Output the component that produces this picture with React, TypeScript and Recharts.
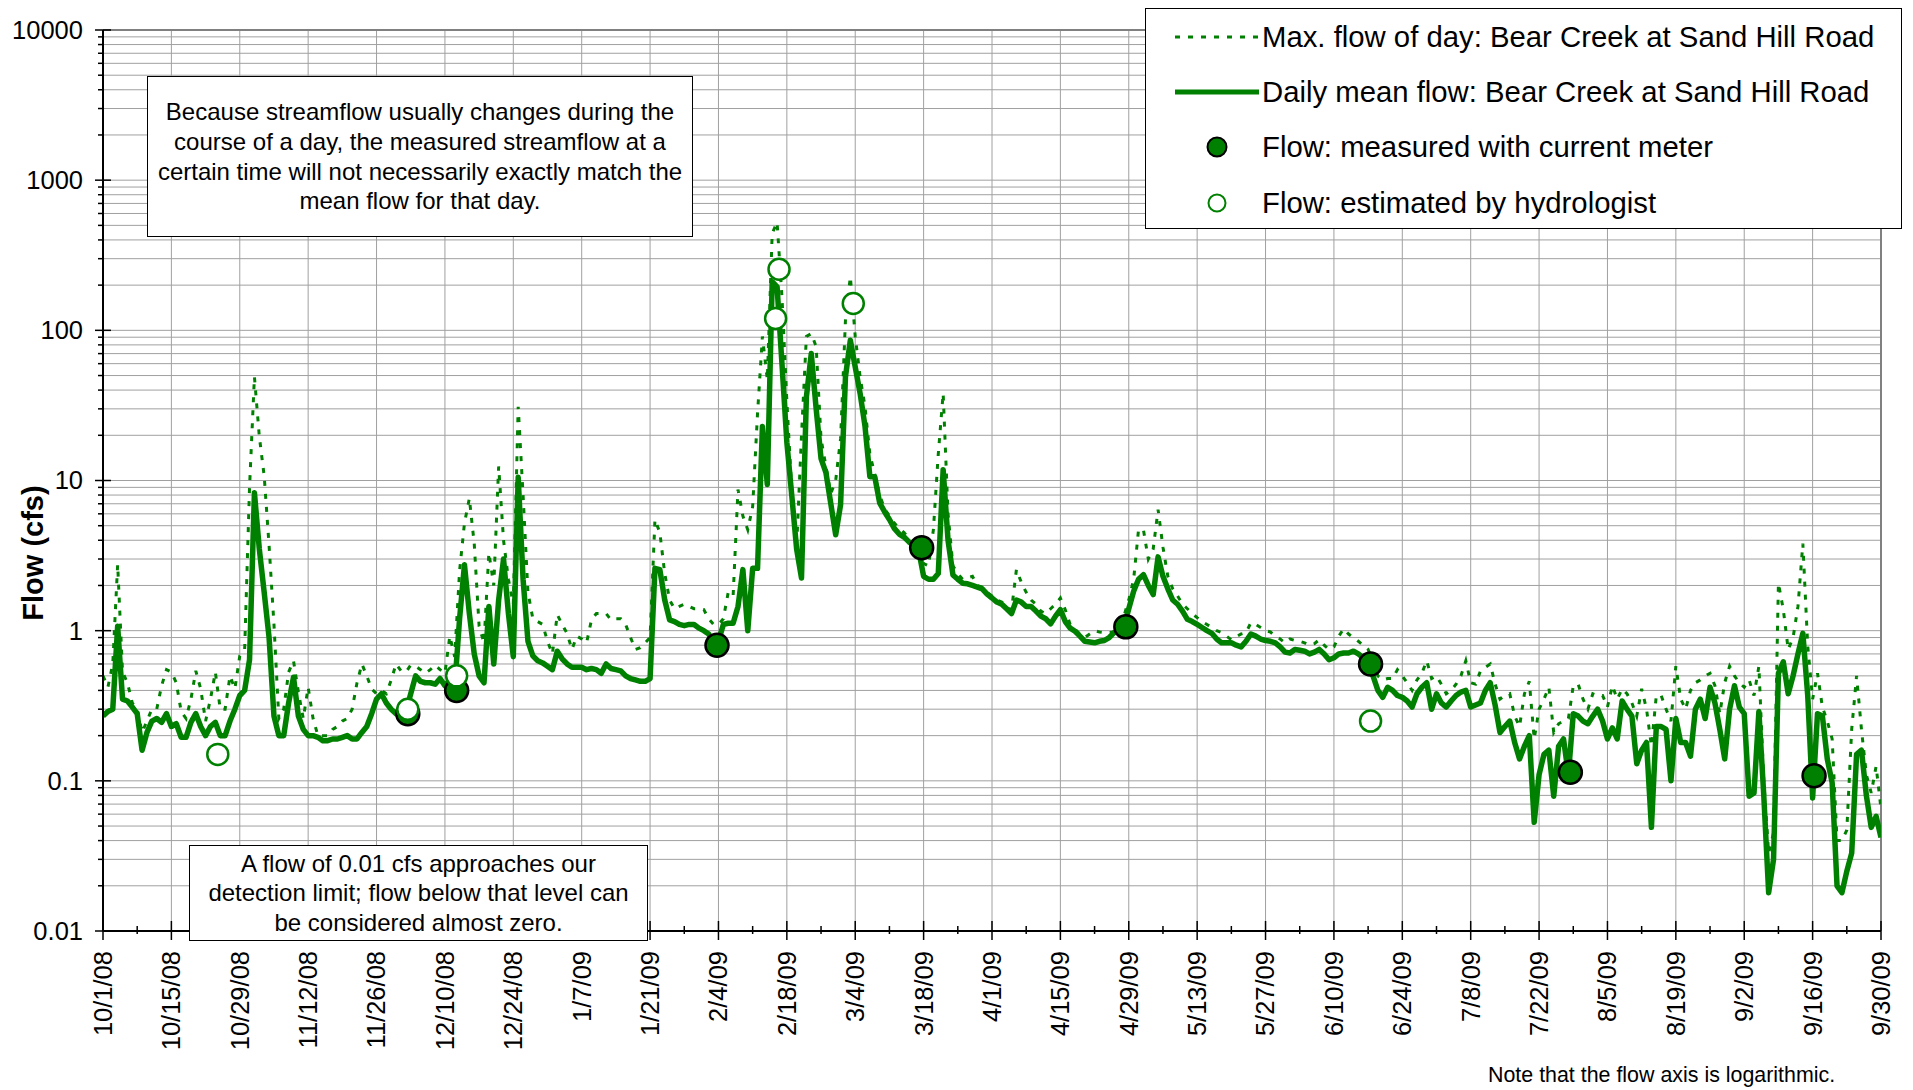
import React from 'react'
import {
  ComposedChart,
  Line,
  Scatter,
  XAxis,
  YAxis,
  CartesianGrid,
  ReferenceLine,
  Legend
} from 'recharts'

const FONT = '"Liberation Sans", Arial, Helvetica, sans-serif'
const GREEN = '#008000'

const CHART_W = 1913
const CHART_H = 1090
const PLOT_LEFT = 103
const PLOT_RIGHT = 32
const PLOT_TOP = 30
const X_AXIS_H = 159
const LAST_DAY = 364
const PX_PER_DAY = (CHART_W - PLOT_LEFT - PLOT_RIGHT) / LAST_DAY

// daily mean / daily max flow (cfs), Bear Creek at Sand Hill Road, 10/1/08 - 9/30/09
const meanOct = [0.27, 0.29, 0.3, 1.07, 0.35, 0.34, 0.31, 0.28, 0.16, 0.21, 0.25, 0.26, 0.245, 0.28, 0.23, 0.24, 0.195, 0.195, 0.245, 0.28, 0.23, 0.2, 0.23, 0.245, 0.2, 0.2, 0.25, 0.3, 0.37, 0.4, 0.64]
const maxOct = [0.5, 0.42, 0.6, 2.76, 0.53, 0.45, 0.33, 0.3, 0.21, 0.25, 0.3, 0.3, 0.43, 0.55, 0.53, 0.45, 0.29, 0.26, 0.35, 0.54, 0.41, 0.25, 0.35, 0.53, 0.3, 0.3, 0.5, 0.41, 0.68, 0.75, 9]

const meanNov = [8.3, 3.5, 1.8, 0.9, 0.27, 0.2, 0.2, 0.33, 0.49, 0.27, 0.22, 0.2, 0.2, 0.195, 0.185, 0.185, 0.19, 0.19, 0.195, 0.2, 0.19, 0.19, 0.21, 0.23, 0.28, 0.35, 0.38, 0.33, 0.3, 0.28]
const maxNov = [49, 19.7, 10.7, 3.7, 1.1, 0.26, 0.3, 0.53, 0.63, 0.39, 0.26, 0.42, 0.26, 0.2, 0.2, 0.2, 0.22, 0.23, 0.25, 0.26, 0.3, 0.45, 0.6, 0.5, 0.41, 0.38, 0.4, 0.38, 0.47, 0.6]

const meanDec = [0.3, 0.29, 0.38, 0.5, 0.46, 0.45, 0.45, 0.44, 0.48, 0.43, 0.47, 0.42, 1.2, 2.75, 1.3, 0.7, 0.5, 0.45, 1.45, 0.6, 1.6, 3.0, 1.3, 0.67, 10.5, 2.2, 0.85, 0.68, 0.63, 0.61, 0.58]
const maxDec = [0.54, 0.53, 0.59, 0.58, 0.55, 0.52, 0.55, 0.59, 0.55, 0.52, 0.92, 0.67, 2.5, 5.2, 7.6, 3.8, 1.07, 0.83, 3.3, 2.0, 12.4, 4.0, 2.2, 1.5, 31, 8, 1.8, 1.2, 1.15, 1.1, 0.85]

const meanJan = [0.55, 0.73, 0.65, 0.6, 0.57, 0.57, 0.57, 0.55, 0.56, 0.55, 0.52, 0.6, 0.56, 0.55, 0.54, 0.5, 0.48, 0.47, 0.46, 0.46, 0.48, 2.6, 2.55, 1.6, 1.18, 1.15, 1.1, 1.08, 1.1, 1.1, 1.04]
const maxJan = [0.7, 1.28, 1.1, 0.96, 0.75, 0.92, 0.88, 0.83, 1.18, 1.3, 1.3, 1.3, 1.18, 1.2, 1.2, 1.1, 0.9, 0.75, 0.77, 0.83, 0.9, 5.5, 4.5, 2.4, 1.6, 1.4, 1.45, 1.5, 1.45, 1.4, 1.4]

const meanFeb = [1.0, 0.95, 0.82, 0.85, 1.1, 1.12, 1.12, 1.45, 2.55, 1.0, 2.6, 2.6, 22.9, 9.4, 211, 195, 60, 18, 8, 3.5, 2.24, 36, 70, 30, 14, 11.3, 7, 4.35]
const maxFeb = [1.38, 1.2, 1.1, 1.1, 1.2, 1.8, 1.7, 8.7, 5.8, 4.7, 6.7, 28, 91, 47, 442, 525, 167, 34, 8.7, 3.6, 20, 91, 95, 78, 19, 12.4, 8.2, 10]

const meanMar = [6.9, 49, 86, 57, 38, 23, 10.6, 10.6, 7.1, 6.2, 5.5, 4.8, 4.4, 4.2, 3.9, 3.7, 3.4, 2.3, 2.2, 2.2, 2.4, 11.8, 4, 2.35, 2.2, 2.07, 2.05, 2.0, 1.95, 1.9, 1.75]
const maxMar = [19, 117, 228, 91, 49, 31, 15, 11, 8, 6.5, 5.8, 5.2, 4.8, 4.5, 4.1, 3.9, 3.6, 2.8, 2.7, 4.7, 15, 38, 6, 2.7, 2.4, 2.2, 2.25, 2.3, 2.0, 1.95, 1.8]

const meanApr = [1.65, 1.55, 1.5, 1.4, 1.3, 1.6, 1.55, 1.45, 1.45, 1.35, 1.25, 1.2, 1.11, 1.25, 1.38, 1.15, 1.04, 0.99, 0.92, 0.85, 0.84, 0.83, 0.85, 0.86, 0.9, 0.97, 1.0, 1.06, 1.4, 1.83]
const maxApr = [1.7, 1.6, 1.55, 1.45, 1.37, 2.55, 2.1, 1.8, 1.6, 1.5, 1.35, 1.3, 1.4, 1.5, 1.65, 1.38, 1.1, 1.02, 0.95, 0.9, 0.95, 1.0, 0.98, 0.97, 0.97, 0.98, 1.1, 1.25, 1.6, 2.2]

const meanMay = [2.2, 2.36, 2.0, 1.74, 3.1, 2.3, 1.9, 1.6, 1.5, 1.35, 1.19, 1.15, 1.1, 1.05, 1.0, 0.96, 0.88, 0.83, 0.83, 0.83, 0.8, 0.78, 0.85, 0.95, 0.92, 0.88, 0.86, 0.85, 0.83, 0.78, 0.72]
const maxMay = [4.7, 4.7, 3.0, 3.5, 6.4, 3.6, 2.3, 1.9, 1.7, 1.5, 1.4, 1.3, 1.22, 1.15, 1.1, 1.05, 1.0, 0.97, 0.92, 0.87, 0.91, 0.95, 0.97, 1.13, 1.1, 1.05, 1.0, 0.98, 0.92, 0.88, 0.83]

const meanJun = [0.71, 0.75, 0.74, 0.73, 0.7, 0.72, 0.75, 0.7, 0.64, 0.66, 0.7, 0.71, 0.71, 0.73, 0.7, 0.66, 0.6, 0.5, 0.4, 0.36, 0.42, 0.4, 0.37, 0.36, 0.34, 0.31, 0.38, 0.42, 0.45, 0.3]
const maxJun = [0.88, 0.86, 0.85, 0.83, 0.8, 0.82, 0.87, 0.8, 0.75, 0.78, 0.92, 1.03, 0.95, 0.9, 0.85, 0.8, 0.75, 0.62, 0.5, 0.47, 0.48, 0.48, 0.55, 0.5, 0.45, 0.4, 0.47, 0.52, 0.63, 0.48]

const meanJul = [0.38, 0.33, 0.31, 0.34, 0.37, 0.39, 0.4, 0.31, 0.32, 0.33, 0.4, 0.45, 0.32, 0.21, 0.23, 0.25, 0.18, 0.14, 0.17, 0.2, 0.053, 0.11, 0.15, 0.16, 0.079, 0.17, 0.19, 0.11, 0.28, 0.27, 0.25]
const maxJul = [0.5, 0.44, 0.38, 0.4, 0.44, 0.5, 0.63, 0.45, 0.44, 0.54, 0.57, 0.6, 0.44, 0.35, 0.37, 0.38, 0.27, 0.23, 0.38, 0.46, 0.19, 0.3, 0.35, 0.42, 0.21, 0.24, 0.25, 0.26, 0.43, 0.44, 0.35]

const meanAug = [0.24, 0.27, 0.3, 0.25, 0.19, 0.225, 0.19, 0.34, 0.3, 0.27, 0.13, 0.16, 0.18, 0.049, 0.23, 0.23, 0.22, 0.1, 0.26, 0.18, 0.18, 0.146, 0.3, 0.35, 0.26, 0.42, 0.33, 0.22, 0.14, 0.3, 0.43]
const maxAug = [0.3, 0.38, 0.37, 0.37, 0.31, 0.43, 0.35, 0.41, 0.38, 0.33, 0.27, 0.41, 0.3, 0.17, 0.37, 0.37, 0.3, 0.25, 0.58, 0.35, 0.3, 0.4, 0.45, 0.47, 0.5, 0.52, 0.43, 0.28, 0.45, 0.58, 0.5]

const meanSep = [0.31, 0.28, 0.079, 0.083, 0.29, 0.08, 0.018, 0.03, 0.52, 0.62, 0.38, 0.5, 0.7, 0.96, 0.37, 0.077, 0.28, 0.27, 0.14, 0.097, 0.02, 0.018, 0.025, 0.033, 0.15, 0.16, 0.08, 0.049, 0.058, 0.042]
const maxSep = [0.45, 0.42, 0.47, 0.37, 0.58, 0.1, 0.033, 0.045, 2.07, 1.38, 0.75, 0.9, 1.45, 3.8, 0.79, 0.35, 0.52, 0.31, 0.25, 0.19, 0.04, 0.04, 0.047, 0.22, 0.5, 0.22, 0.11, 0.083, 0.125, 0.065]

// field measurements, day counted from 10/1/08
const measuredDays = [62.4, 72.4, 125.7, 167.6, 209.4, 259.5, 300.4, 350.3]
const measuredFlow = [0.28, 0.4, 0.8, 3.57, 1.06, 0.6, 0.114, 0.108]
const estimatedDays = [23.5, 62.4, 72.4, 137.7, 138.4, 153.6, 259.5]
const estimatedFlow = [0.15, 0.3, 0.5, 120, 255, 151, 0.25]

const tickLabels = [
  '10/1/08', '10/15/08', '10/29/08', '11/12/08', '11/26/08', '12/10/08', '12/24/08',
  '1/7/09', '1/21/09', '2/4/09', '2/18/09', '3/4/09', '3/18/09', '4/1/09', '4/15/09',
  '4/29/09', '5/13/09', '5/27/09', '6/10/09', '6/24/09', '7/8/09', '7/22/09', '8/5/09',
  '8/19/09', '9/2/09', '9/16/09', '9/30/09'
]
const tickDays = tickLabels.map((_, i) => i * 14)

const majorTicks = [0.01, 0.1, 1, 10, 100, 1000, 10000]
const yTicks = majorTicks
  .slice(0, -1)
  .flatMap((d) => [1, 2, 3, 4, 5, 6, 7, 8, 9].map((m) => d * m))
  .concat(10000)

const dailyMean = [
  ...meanOct, ...meanNov, ...meanDec, ...meanJan, ...meanFeb, ...meanMar,
  ...meanApr, ...meanMay, ...meanJun, ...meanJul, ...meanAug, ...meanSep
]
const dailyMax = [
  ...maxOct, ...maxNov, ...maxDec, ...maxJan, ...maxFeb, ...maxMar,
  ...maxApr, ...maxMay, ...maxJun, ...maxJul, ...maxAug, ...maxSep
]

const rows = dailyMean.map((mean, day) => ({ day, mean, max: dailyMax[day] }))
const measured = measuredDays.map((day, i) => ({ day, flow: measuredFlow[i] }))
const estimated = estimatedDays.map((day, i) => ({ day, flow: estimatedFlow[i] }))

const legendItems = [
  { label: 'Max. flow of day: Bear Creek at Sand Hill Road', kind: 'dotted' },
  { label: 'Daily mean flow: Bear Creek at Sand Hill Road', kind: 'solid' },
  { label: 'Flow: measured with current meter', kind: 'filled' },
  { label: 'Flow: estimated by hydrologist', kind: 'open' }
]

const DateTick = (props: any) => {
  const { x, y, payload } = props
  const i = tickDays.indexOf(payload.value)
  const minorX = x + 7 * PX_PER_DAY
  return (
    <g>
      <line x1={x} x2={x} y1={y - 10} y2={y + 9} stroke='#000' strokeWidth={1.5} />
      {i < tickDays.length - 1 && (
        <line x1={minorX} x2={minorX} y1={y - 5} y2={y + 3} stroke='#000' strokeWidth={1.5} />
      )}
      <text
        transform={`translate(${x},${y}) rotate(-90)`}
        x={-20}
        y={0}
        dy='0.35em'
        textAnchor='end'
        fontSize={25.5}
        fontFamily={FONT}
        fill='#000'
      >
        {tickLabels[i]}
      </text>
    </g>
  )
}

const FlowTick = (props: any) => {
  const { x, y, payload } = props
  const major = majorTicks.includes(payload.value)
  return (
    <g>
      {major ? (
        <line x1={x - 8} x2={x + 8} y1={y} y2={y} stroke='#000' strokeWidth={1.5} />
      ) : (
        <line x1={x - 5} x2={x + 1} y1={y} y2={y} stroke='#000' strokeWidth={1.5} />
      )}
      {major && (
        <text x={x - 20} y={y} dy='0.35em' textAnchor='end' fontSize={25.5} fontFamily={FONT} fill='#000'>
          {String(payload.value)}
        </text>
      )}
    </g>
  )
}

const AxisTitle = () => (
  <text
    x={43}
    y={553}
    transform='rotate(-90, 43, 553)'
    textAnchor='middle'
    fontSize={29}
    fontWeight='bold'
    fontFamily={FONT}
    fill='#000'
  >
    Flow (cfs)
  </text>
)

const LegendIcon = ({ kind }: { kind: string }) => (
  <svg width={84} height={26} style={{ display: 'block' }}>
    {kind === 'dotted' && (
      <line x1={0} x2={84} y1={13} y2={13} stroke={GREEN} strokeWidth={3} strokeDasharray='5 8' />
    )}
    {kind === 'solid' && <line x1={0} x2={84} y1={13} y2={13} stroke={GREEN} strokeWidth={5} />}
    {kind === 'filled' && <circle cx={42} cy={13} r={9.5} fill={GREEN} stroke='#000' strokeWidth={2} />}
    {kind === 'open' && <circle cx={42} cy={13} r={8.5} fill='#fff' stroke={GREEN} strokeWidth={2} />}
  </svg>
)

const LegendBox = () => (
  <div
    style={{
      boxSizing: 'border-box',
      width: 757,
      height: 221,
      border: '1.5px solid #000',
      background: '#fff',
      fontFamily: FONT
    }}
  >
    {legendItems.map((item) => (
      <div key={item.label} style={{ height: 55.3, display: 'flex', alignItems: 'center' }}>
        <div style={{ marginLeft: 29 }}>
          <LegendIcon kind={item.kind} />
        </div>
        <span style={{ marginLeft: 3, fontSize: 29.3, color: '#000', whiteSpace: 'nowrap' }}>
          {item.label}
        </span>
      </div>
    ))}
  </div>
)

const boxStyle: React.CSSProperties = {
  position: 'absolute',
  boxSizing: 'border-box',
  border: '1.5px solid #000',
  background: '#fff',
  display: 'flex',
  alignItems: 'center',
  justifyContent: 'center',
  textAlign: 'center',
  fontFamily: FONT,
  fontSize: 24,
  color: '#000',
  whiteSpace: 'nowrap'
}

const App = () => {
  return (
    <div
      style={{
        position: 'absolute',
        left: 0,
        top: 0,
        width: CHART_W,
        height: CHART_H,
        background: '#fff',
        fontFamily: FONT
      }}
    >
      <ComposedChart
        width={CHART_W}
        height={CHART_H}
        data={rows}
        margin={{ top: PLOT_TOP, right: PLOT_RIGHT, bottom: 0, left: 0 }}
      >
        <CartesianGrid stroke='#a0a0a0' strokeWidth={1} />
        <XAxis
          dataKey='day'
          type='number'
          domain={[0, LAST_DAY]}
          ticks={tickDays}
          interval={0}
          height={X_AXIS_H}
          tick={<DateTick />}
          tickLine={false}
          tickSize={0}
          tickMargin={0}
          axisLine={{ stroke: '#000', strokeWidth: 2 }}
          allowDataOverflow
        />
        <YAxis
          scale='log'
          type='number'
          domain={[0.01, 10000]}
          ticks={yTicks}
          interval={0}
          width={PLOT_LEFT}
          tick={<FlowTick />}
          tickLine={false}
          tickSize={0}
          tickMargin={0}
          axisLine={{ stroke: '#000', strokeWidth: 2 }}
          allowDataOverflow
          label={<AxisTitle />}
        />
        <ReferenceLine y={10000} stroke='#808080' strokeWidth={2} />
        <ReferenceLine x={LAST_DAY} stroke='#808080' strokeWidth={2} />
        <Line
          dataKey='max'
          name='Max. flow of day: Bear Creek at Sand Hill Road'
          type='linear'
          stroke={GREEN}
          strokeWidth={3}
          strokeDasharray='5 8'
          dot={false}
          activeDot={false}
          isAnimationActive={false}
        />
        <Line
          dataKey='mean'
          name='Daily mean flow: Bear Creek at Sand Hill Road'
          type='linear'
          stroke={GREEN}
          strokeWidth={5.5}
          strokeLinejoin='round'
          dot={false}
          activeDot={false}
          isAnimationActive={false}
        />
        <Scatter
          data={measured}
          dataKey='flow'
          name='Flow: measured with current meter'
          isAnimationActive={false}
          shape={(p: any) => <circle cx={p.cx} cy={p.cy} r={11.5} fill={GREEN} stroke='#000' strokeWidth={2.5} />}
        />
        <Scatter
          data={estimated}
          dataKey='flow'
          name='Flow: estimated by hydrologist'
          isAnimationActive={false}
          shape={(p: any) => <circle cx={p.cx} cy={p.cy} r={10.5} fill='#fff' stroke={GREEN} strokeWidth={2.5} />}
        />
        <Legend
          layout='vertical'
          align='center'
          verticalAlign='middle'
          wrapperStyle={{ left: 1145, top: 8, width: 757 }}
          content={() => <LegendBox />}
        />
      </ComposedChart>

      <div style={{ ...boxStyle, left: 147, top: 76, width: 546, height: 161, lineHeight: '29.7px' }}>
        <div>
          Because streamflow usually changes during the
          <br />
          course of a day, the measured streamflow at a
          <br />
          certain time will not necessarily exactly match the
          <br />
          mean flow for that day.
        </div>
      </div>

      <div style={{ ...boxStyle, left: 189, top: 845, width: 459, height: 96, lineHeight: '29.5px' }}>
        <div>
          A flow of 0.01 cfs approaches our
          <br />
          detection limit; flow below that level can
          <br />
          be considered almost zero.
        </div>
      </div>

      <div
        style={{
          position: 'absolute',
          left: 1488,
          top: 1063,
          fontFamily: FONT,
          fontSize: 21.4,
          lineHeight: '25px',
          color: '#000',
          whiteSpace: 'nowrap'
        }}
      >
        Note that the flow axis is logarithmic.
      </div>
    </div>
  )
}

export default App
